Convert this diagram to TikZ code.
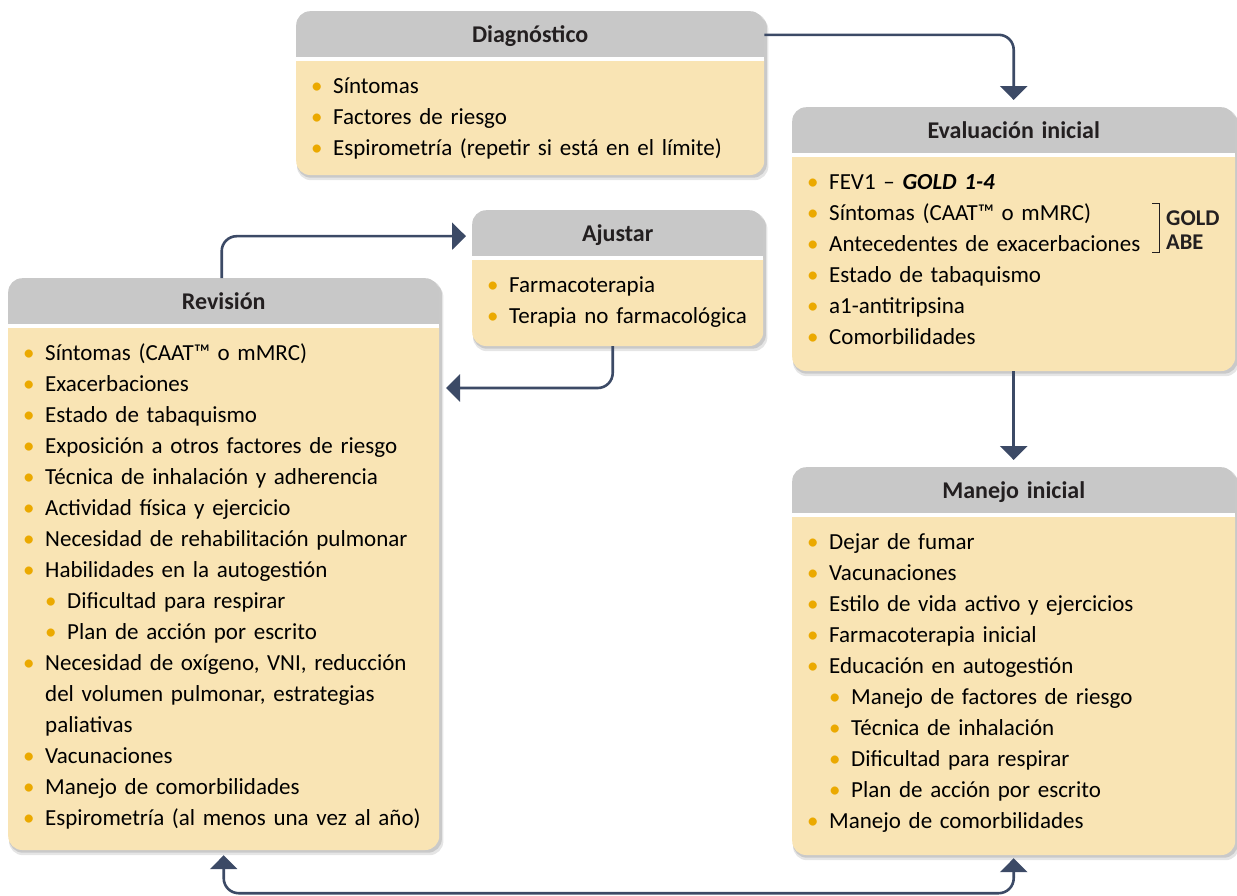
\documentclass[tikz,border=0pt]{standalone}
\usepackage{fontspec}
\setmainfont{Carlito}
\usetikzlibrary{shapes.multipart,arrows.meta,calc,backgrounds}

\definecolor{headgray}{HTML}{C8C8C8}
\definecolor{bodyyellow}{HTML}{F9E4B4}
\definecolor{bulletgold}{HTML}{EBA900}
\definecolor{flownavy}{HTML}{3C4A66}
\definecolor{inktext}{HTML}{231F20}

\newcommand{\bul}{\textcolor{bulletgold}{\textbullet}}
\newcommand{\itm}[1]{\noindent\strut\makebox[23pt][l]{\hspace{1pt}\bul}\mbox{#1}\par}
\newcommand{\subitm}[1]{\noindent\strut\hspace{22pt}\makebox[23pt][l]{\hspace{1pt}\bul}\mbox{#1}\par}
\newcommand{\contd}[1]{\noindent\strut\hspace{23pt}\mbox{#1}\par}
\newcommand{\padend}[1]{\vskip#1\hrule height 0pt width 0pt}
\newcommand{\boxtitle}[1]{\noindent\makebox[\hsize]{\raisebox{0pt}[18pt][3pt]{\fontsize{24}{28}\selectfont\bfseries #1}}}

\begin{document}
\begin{tikzpicture}[x=1pt, y=-1pt, >={Triangle[width=27pt,length=14pt]}]
    \tikzstyle{stage} = [rectangle split, rectangle split parts=2,
      rectangle split part fill={headgray,bodyyellow}, rounded corners=14pt,
      inner xsep=14pt, inner ysep=13pt, anchor=north west, text=inktext,
      font=\fontsize{23}{31}\selectfont]
    \tikzstyle{flow} = [draw=flownavy, line width=2.6pt, rounded corners=15pt]
    \tikzstyle{gap} = [white, line width=4pt]
    \tikzstyle{shade} = [black, rounded corners=14pt]

    \useasboundingbox (0,0) rectangle (1237,895);

      \node[stage, text width=440pt] (diag) at (296,11) {\boxtitle{Diagnóstico}%
        \nodepart{two}%
        \itm{Síntomas}
        \itm{Factores de riesgo}
        \itm{Espirometría (repetir si está en el límite)}
        \padend{-3pt}};
      \node[stage, text width=415pt] (eval) at (792,107) {\boxtitle{Evaluación inicial}%
        \nodepart{two}%
        \itm{FEV1 – \textbf{\textit{GOLD 1-4}}}
        \itm{Síntomas (CAAT™ o mMRC)}
        \itm{Antecedentes de exacerbaciones}
        \itm{Estado de tabaquismo}
        \itm{a1-antitripsina}
        \itm{Comorbilidades}
        \padend{4pt}};
      \node[stage, text width=263pt] (ajustar) at (472,210) {\boxtitle{Ajustar}%
        \nodepart{two}%
        \itm{Farmacoterapia}
        \itm{Terapia no farmacológica}};
      \node[stage, text width=403pt] (rev) at (8,278) {\boxtitle{Revisión}%
        \nodepart{two}%
        \itm{Síntomas (CAAT™ o mMRC)}
        \itm{Exacerbaciones}
        \itm{Estado de tabaquismo}
        \itm{Exposición a otros factores de riesgo}
        \itm{Técnica de inhalación y adherencia}
        \itm{Actividad física y ejercicio}
        \itm{Necesidad de rehabilitación pulmonar}
        \itm{Habilidades en la autogestión}
        \subitm{Dificultad para respirar}
        \subitm{Plan de acción por escrito}
        \itm{Necesidad de oxígeno, VNI, reducción}
        \contd{del volumen pulmonar, estrategias}
        \contd{paliativas}
        \itm{Vacunaciones}
        \itm{Manejo de comorbilidades}
        \itm{Espirometría (al menos una vez al año)}
        \padend{2pt}};
      \node[stage, text width=415pt] (manejo) at (792,467) {\boxtitle{Manejo inicial}%
        \nodepart{two}%
        \itm{Dejar de fumar}
        \itm{Vacunaciones}
        \itm{Estilo de vida activo y ejercicios}
        \itm{Farmacoterapia inicial}
        \itm{Educación en autogestión}
        \subitm{Manejo de factores de riesgo}
        \subitm{Técnica de inhalación}
        \subitm{Dificultad para respirar}
        \subitm{Plan de acción por escrito}
        \itm{Manejo de comorbilidades}
        \padend{4pt}};

      \begin{scope}[on background layer]
        \foreach \n in {diag,eval,ajustar,rev,manejo} {
          \fill[shade, opacity=0.10] ([shift={(1pt,-5pt)}]\n.north west) rectangle ([shift={(4pt,-5pt)}]\n.south east);
          \fill[shade, opacity=0.12] ([shift={(1pt,-2pt)}]\n.north west) rectangle ([shift={(2.5pt,-2.5pt)}]\n.south east);
        }
      \end{scope}

      \draw[gap] (diag.text split west) -- (diag.text split east);
      \draw[gap] (eval.text split west) -- (eval.text split east);
      \draw[gap] (ajustar.text split west) -- (ajustar.text split east);
      \draw[gap] (rev.text split west) -- (rev.text split east);
      \draw[gap] (manejo.text split west) -- (manejo.text split east);

      \node[font=\fontsize{22.5}{24}\selectfont\bfseries, text=inktext, anchor=west,
        align=left, inner sep=0pt] (goldabe) at (1166,230) {GOLD\\ABE};
      \draw[inktext, line width=0.8pt] (1152,203) -- (1159,203) -- (1159,252) -- (1152,252);

      \coordinate (revin) at (440,388);

      \draw[flow, ->, shorten >=7pt] ($(diag.north east)!0.5!(diag.text split east)$) -| (eval.north);
      \draw[flow, ->, shorten >=7pt] (eval.south) -- (manejo.north);
      \draw[flow, ->, shorten >=6pt] ([xshift=-2pt]rev.north) |- ($(ajustar.north west)!0.55!(ajustar.text split west)$);
      \draw[flow, ->, shorten >=6pt] ([xshift=-5pt]ajustar.south) |- (revin);
      \draw[flow, <->, shorten <=5pt, shorten >=3pt] (rev.south) -- ++(0,43) -| (manejo.south);
    \end{tikzpicture}
\end{document}
